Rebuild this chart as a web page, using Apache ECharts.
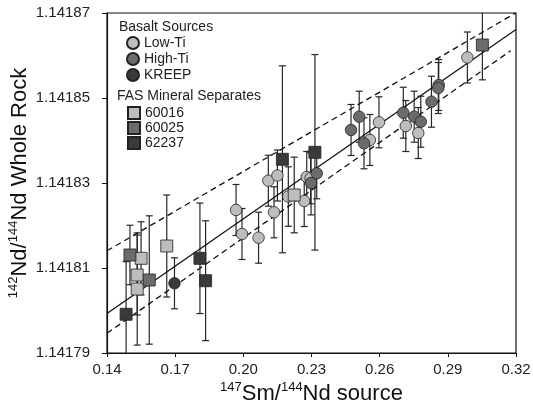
<!DOCTYPE html>
<html>
<head>
<meta charset="utf-8">
<script src="https://cdn.jsdelivr.net/npm/echarts@6/dist/echarts.min.js"></script>
<style>html,body{margin:0;padding:0;background:#fff;}#c{width:533px;height:403px;}</style>
</head>
<body>
<div id="c"></div>
<script>
// x ticks and y ticks
const xTicks = [0.14, 0.17, 0.20, 0.23, 0.26, 0.29, 0.32];
const yTicks = [1.14179, 1.14181, 1.14183, 1.14185, 1.14187];

// [x, y, error half-width]
const lowTi = [
  [0.1968, 1.14182365, 6e-6],
  [0.1994, 1.14181800, 6e-6],
  [0.2067, 1.14181713, 6e-6],
  [0.2110, 1.14183054, 6e-6],
  [0.2150, 1.14183176, 6e-6],
  [0.2135, 1.14182311, 6e-6],
  [0.2198, 1.14182682, 7e-6],
  [0.2268, 1.14182576, 6e-6],
  [0.2279, 1.14183141, 6e-6],
  [0.2296, 1.14183111, 6e-6],
  [0.2557, 1.14184012, 6e-6],
  [0.2597, 1.14184428, 6e-6],
  [0.2715, 1.14184341, 6e-6],
  [0.2770, 1.14184176, 6e-6],
  [0.2986, 1.14185953, 6e-6]
];
const highTi = [
  [0.2323, 1.14183228, 6e-6],
  [0.2298, 1.14183000, 7.5e-6],
  [0.2474, 1.14184247, 6e-6],
  [0.2510, 1.14184560, 6e-6],
  [0.2531, 1.14183934, 6e-6],
  [0.2704, 1.14184654, 6e-6],
  [0.2752, 1.14184560, 6e-6],
  [0.2781, 1.14184442, 6e-6],
  [0.2828, 1.14184913, 6e-6],
  [0.2860, 1.14185306, 6e-6],
  [0.2858, 1.14185235, 6e-6]
];
const kreep = [
  [0.1697, 1.14180640, 6e-6]
];
const s60016 = [
  [0.1550, 1.14181228, 8.6e-6],
  [0.1533, 1.14180835, 9.4e-6],
  [0.1533, 1.14180506, 1.32e-5],
  [0.1663, 1.14181518, 1.2e-5],
  [0.2224, 1.14182718, 8.9e-6]
];
const s60025 = [
  [0.1501, 1.14181306, 7e-6],
  [0.1586, 1.14180718, 1.51e-5],
  [0.3052, 1.14186247, 8.2e-6]
];
const s62237 = [
  [0.1484, 1.14179911, 1.24e-5],
  [0.1809, 1.14181228, 1.3e-5],
  [0.1834, 1.14180701, 1.41e-5],
  [0.2172, 1.14183558, 2.2e-5],
  [0.2315, 1.14183722, 2.3e-5]
];
// regression line and confidence band end points
const fitLine = [[0.14, 1.14179929], [0.32, 1.14186612]];
const upperBand = [[0.14, 1.14181405], [0.32, 1.14187005]];
const lowerBand = [[0.14, 1.14179464], [0.3177, 1.14186113]];

const LIGHT = '#bdbdbd', MED = '#6b6b6b', DARK = '#3a3a3a';
const FONT = '"Liberation Sans", Arial, sans-serif';

const groups = [
  {name: 'Low-Ti', data: lowTi, color: LIGHT, symbol: 'circle', size: 11.5},
  {name: 'High-Ti', data: highTi, color: MED, symbol: 'circle', size: 11.5},
  {name: 'KREEP', data: kreep, color: DARK, symbol: 'circle', size: 11.5},
  {name: '60016', data: s60016, color: LIGHT, symbol: 'rect', size: 12},
  {name: '60025', data: s60025, color: MED, symbol: 'rect', size: 12},
  {name: '62237', data: s62237, color: DARK, symbol: 'rect', size: 12}
];

const errData = [];
groups.forEach(g => g.data.forEach(d => errData.push([d[0], d[1] - d[2], d[1] + d[2]])));

const series = [];
series.push({
  type: 'custom', name: 'err', z: 1, clip: true, silent: true,
  data: errData,
  encode: {x: 0, y: [1, 2]},
  renderItem: function (params, api) {
    const x = api.value(0);
    const lo = api.coord([x, api.value(1)]);
    const hi = api.coord([x, api.value(2)]);
    const cw = 3.5;
    const st = {stroke: '#262626', lineWidth: 1.2};
    return {type: 'group', children: [
      {type: 'line', shape: {x1: lo[0], y1: lo[1], x2: hi[0], y2: hi[1]}, style: st},
      {type: 'line', shape: {x1: lo[0] - cw, y1: lo[1], x2: lo[0] + cw, y2: lo[1]}, style: st},
      {type: 'line', shape: {x1: hi[0] - cw, y1: hi[1], x2: hi[0] + cw, y2: hi[1]}, style: st}
    ]};
  }
});
series.push({type: 'line', name: 'fit', data: fitLine, symbol: 'none', z: 2, silent: true,
  lineStyle: {color: '#111', width: 1.3}});
series.push({type: 'line', name: 'up', data: upperBand, symbol: 'none', z: 2, silent: true,
  lineStyle: {color: '#111', width: 1.3, type: [6, 4]}});
series.push({type: 'line', name: 'lo', data: lowerBand, symbol: 'none', z: 2, silent: true,
  lineStyle: {color: '#111', width: 1.3, type: [6, 4]}});
groups.forEach(g => {
  series.push({
    type: 'scatter', name: g.name, z: 3,
    data: g.data.map(d => [d[0], d[1]]),
    symbol: g.symbol, symbolSize: g.size,
    itemStyle: {color: g.color, borderColor: '#222', borderWidth: 0.8, opacity: 1}
  });
});

const chart = echarts.init(document.getElementById('c'), null, {renderer: 'canvas'});
chart.setOption({
  animation: false,
  backgroundColor: '#fff',
  textStyle: {fontFamily: FONT},
  title: [
    {text: 'Basalt Sources', left: 119, top: 20, textStyle: {fontSize: 14, fontWeight: 'normal', color: '#222', fontFamily: FONT}, padding: 0},
    {text: 'FAS Mineral Separates', left: 117, top: 89, textStyle: {fontSize: 14, fontWeight: 'normal', color: '#222', fontFamily: FONT}, padding: 0}
  ],
  legend: [
    {data: ['Low-Ti', 'High-Ti', 'KREEP'], orient: 'vertical', left: 126, top: 36, padding: 0,
      itemWidth: 12, itemHeight: 12, itemGap: 2, selectedMode: false,
      textStyle: {fontSize: 14, color: '#222', fontFamily: FONT}},
    {data: ['60016', '60025', '62237'], orient: 'vertical', left: 127, top: 106, padding: 0,
      itemWidth: 12, itemHeight: 12, itemGap: 1, selectedMode: false,
      textStyle: {fontSize: 14, color: '#222', fontFamily: FONT}}
  ],
  grid: {left: 107, right: 17, top: 13, bottom: 50, containLabel: false, outerBoundsMode: 'none',
    show: true, borderColor: '#111', borderWidth: 1.2, backgroundColor: 'transparent'},
  xAxis: {
    type: 'value', min: 0.14, max: 0.32,
    name: '{s|147}{m|Sm/}{s|144}{m|Nd source}', nameLocation: 'middle', nameGap: 28, nameMoveOverlap: false,
    nameTextStyle: {rich: {
      s: {fontSize: 13, lineHeight: 13, verticalAlign: 'top', color: '#111', fontFamily: FONT},
      m: {fontSize: 22, lineHeight: 25, color: '#111', fontFamily: FONT}}},
    axisLine: {onZero: false, lineStyle: {color: '#111', width: 1.2}},
    axisTick: {show: true, length: 4, inside: false, customValues: xTicks, lineStyle: {color: '#111'}},
    axisLabel: {customValues: xTicks, formatter: v => v.toFixed(2), fontSize: 15, color: '#222', margin: 9, fontFamily: FONT},
    splitLine: {show: false}
  },
  yAxis: {
    type: 'value', min: 1.14179, max: 1.14187,
    name: '{s|142}{m|Nd/}{s|144}{m|Nd Whole Rock}', nameLocation: 'middle', nameGap: 75, nameRotate: 90, nameMoveOverlap: false,
    nameTextStyle: {rich: {
      s: {fontSize: 13, lineHeight: 13, verticalAlign: 'top', color: '#111', fontFamily: FONT},
      m: {fontSize: 22, lineHeight: 25, color: '#111', fontFamily: FONT}}},
    axisLine: {onZero: false, lineStyle: {color: '#111', width: 1.2}},
    axisTick: {show: true, length: 5, inside: false, customValues: yTicks, lineStyle: {color: '#111'}},
    axisLabel: {customValues: yTicks, formatter: v => v.toFixed(5), fontSize: 15, color: '#222', margin: 17, fontFamily: FONT},
    splitLine: {show: false}
  },
  series: series
});
</script>
</body>
</html>
